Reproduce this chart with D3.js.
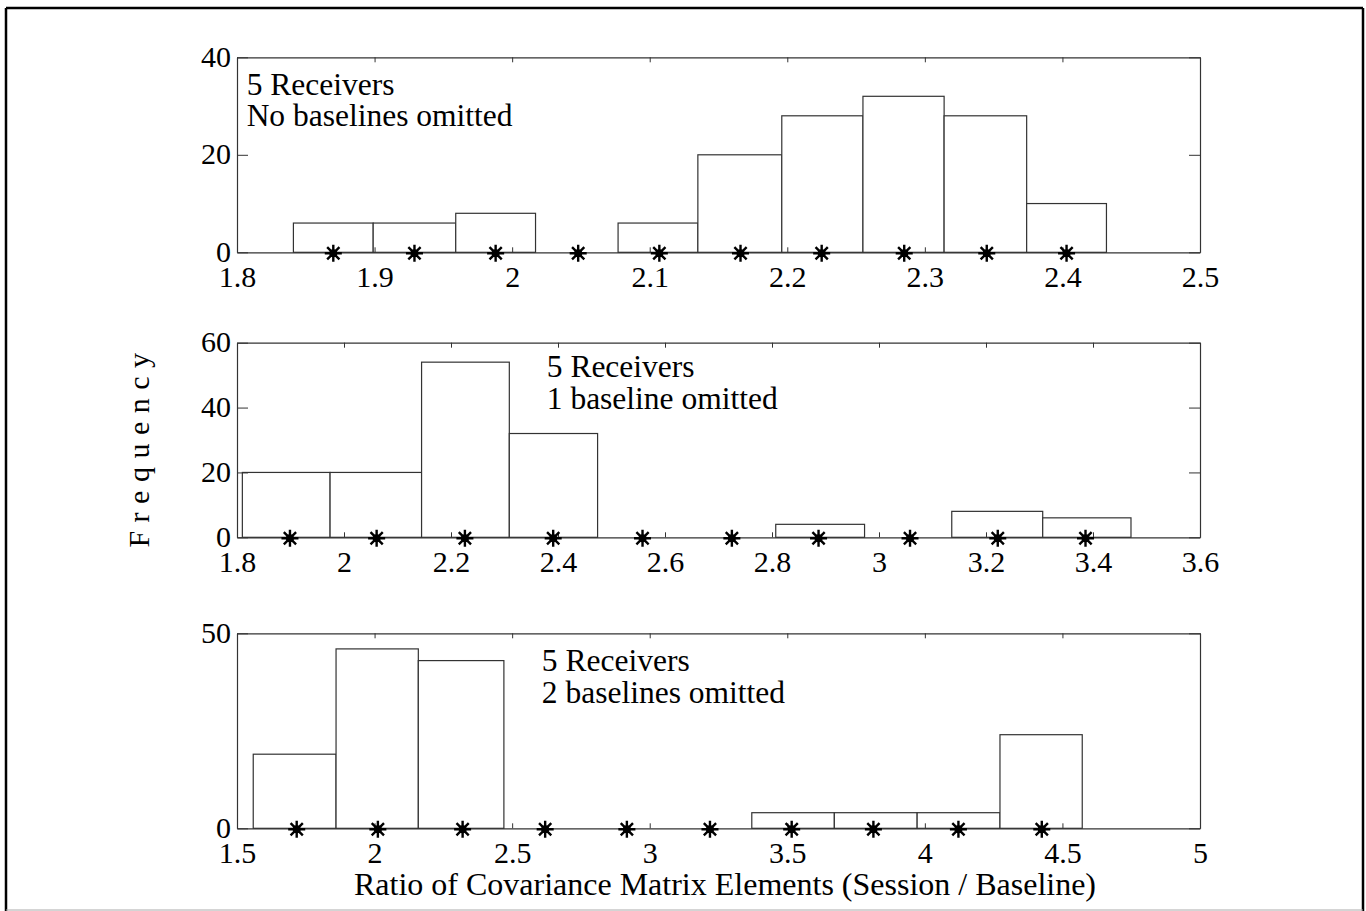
<!DOCTYPE html>
<html>
<head>
<meta charset="utf-8">
<script src="https://cdn.jsdelivr.net/npm/d3@7"></script>
<style>
  body { margin: 0; background: #fff; }
  svg text { font-family: "Liberation Serif", "Times New Roman", serif; fill: #000; }
</style>
</head>
<body>
<div id="chart"></div>
<script>
// histogram bin edges, counts and bin-centre markers
const edges1 = [1.841, 1.899, 1.959, 2.017, 2.077, 2.135, 2.196, 2.255, 2.314, 2.374, 2.432];
const counts1 = [6, 6, 8, 0, 6, 20, 28, 32, 28, 10];
const centers1 = [1.870, 1.929, 1.988, 2.048, 2.107, 2.166, 2.225, 2.285, 2.345, 2.403];
const xTicks1 = [1.8, 1.9, 2, 2.1, 2.2, 2.3, 2.4, 2.5];
const yTicks1 = [0, 20, 40];
const label1 = ["5 Receivers", "No baselines omitted"];

const edges2 = [1.810, 1.974, 2.145, 2.309, 2.474, 2.640, 2.807, 2.973, 3.136, 3.306, 3.471];
const counts2 = [20, 20, 54, 32, 0, 0, 4, 0, 8, 6];
const centers2 = [1.899, 2.061, 2.226, 2.391, 2.558, 2.725, 2.887, 3.058, 3.222, 3.386];
const xTicks2 = [1.8, 2, 2.2, 2.4, 2.6, 2.8, 3, 3.2, 3.4, 3.6];
const yTicks2 = [0, 20, 40, 60];
const label2 = ["5 Receivers", "1 baseline omitted"];

const edges3 = [1.559, 1.860, 2.159, 2.470, 2.764, 3.066, 3.371, 3.671, 3.972, 4.273, 4.572];
const counts3 = [19, 46, 43, 0, 0, 0, 4, 4, 4, 24];
const centers3 = [1.717, 2.012, 2.320, 2.620, 2.917, 3.219, 3.516, 3.813, 4.122, 4.425];
const xTicks3 = [1.5, 2, 2.5, 3, 3.5, 4, 4.5, 5];
const yTicks3 = [0, 50];
const label3 = ["5 Receivers", "2 baselines omitted"];

const W = 1366, H = 911;
const left = 237, right = 1200;
const tickFont = 30;
const noteFont = 31.5;

const svg = d3.select("#chart").append("svg")
  .attr("width", W)
  .attr("height", H);

// outer frame
svg.append("line").attr("x1", 6).attr("y1", 8).attr("x2", 1363).attr("y2", 8)
  .attr("stroke", "#000").attr("stroke-width", 2.5);
svg.append("line").attr("x1", 6).attr("y1", 8).attr("x2", 6).attr("y2", 911)
  .attr("stroke", "#000").attr("stroke-width", 2.5);
svg.append("line").attr("x1", 1363).attr("y1", 8).attr("x2", 1363).attr("y2", 911)
  .attr("stroke", "#000").attr("stroke-width", 2.5);
svg.append("line").attr("x1", 6).attr("y1", 910).attr("x2", 1363).attr("y2", 910)
  .attr("stroke", "#aaa").attr("stroke-width", 1);

// asterisk marker: + and x strokes
const star = {
  draw(ctx, size) {
    const r = Math.sqrt(size) / 2;
    const d = r * 0.72;
    ctx.moveTo(0, -r); ctx.lineTo(0, r);
    ctx.moveTo(-r, 0); ctx.lineTo(r, 0);
    ctx.moveTo(-d, -d); ctx.lineTo(d, d);
    ctx.moveTo(-d, d); ctx.lineTo(d, -d);
  }
};

function panel(cfg) {
  const x = d3.scaleLinear().domain(cfg.xDomain).range([left, right]);
  const y = d3.scaleLinear().domain(cfg.yDomain).range([cfg.bottom, cfg.top]);
  const g = svg.append("g");

  const bins = cfg.counts.map((c, i) => ({ x0: cfg.edges[i], x1: cfg.edges[i + 1], n: c }))
    .filter(d => d.n > 0);

  g.selectAll("rect.bar")
    .data(bins)
    .enter()
    .append("rect")
    .attr("class", "bar")
    .attr("x", d => x(d.x0))
    .attr("y", d => y(d.n))
    .attr("width", d => x(d.x1) - x(d.x0))
    .attr("height", d => y(0) - y(d.n))
    .attr("fill", "#fff")
    .attr("stroke", "#333")
    .attr("stroke-width", 1.2);

  // axes box with inward ticks
  const xb = g.append("g").attr("transform", "translate(0," + cfg.bottom + ")")
    .call(d3.axisBottom(x).tickValues(cfg.xTicks).tickSizeInner(-5).tickSizeOuter(0).tickFormat(d3.format("")));
  xb.selectAll("text").attr("y", 35).attr("dy", null).style("font-size", tickFont + "px");

  g.append("g").attr("transform", "translate(0," + cfg.top + ")")
    .call(d3.axisTop(x).tickValues(cfg.xTicks).tickSizeInner(-5).tickSizeOuter(0).tickFormat(""));

  const yl = g.append("g").attr("transform", "translate(" + left + ",0)")
    .call(d3.axisLeft(y).tickValues(cfg.yTicks).tickSizeInner(-11).tickSizeOuter(0));
  yl.selectAll("text").attr("x", -6).attr("dy", "0.3em").style("font-size", tickFont + "px");

  g.append("g").attr("transform", "translate(" + right + ",0)")
    .call(d3.axisRight(y).tickValues(cfg.yTicks).tickSizeInner(-11).tickSizeOuter(0).tickFormat(""));

  g.selectAll(".domain").attr("stroke", "#333").attr("stroke-width", 1.2);
  g.selectAll(".tick line").attr("stroke", "#333");

  // markers at bin centres
  const sym = d3.symbol().type(star).size(290);
  const m = g.selectAll("g.mark")
    .data(cfg.centers)
    .enter()
    .append("g")
    .attr("class", "mark")
    .attr("transform", d => "translate(" + x(d) + "," + (y(0) + 1) + ")");
  m.append("path").attr("d", sym).attr("stroke", "#000").attr("stroke-width", 2.4).attr("fill", "none");
  m.append("circle").attr("r", 4).attr("fill", "#000");

  // annotation
  const t = g.append("text")
    .attr("x", x(cfg.labelAt[0]))
    .attr("y", y(cfg.labelAt[1]))
    .style("font-size", noteFont + "px");
  cfg.label.forEach((s, i) => {
    t.append("tspan").attr("x", x(cfg.labelAt[0])).attr("dy", i === 0 ? 0 : 31.5).text(s);
  });
}

panel({ edges: edges1, counts: counts1, centers: centers1, xTicks: xTicks1, yTicks: yTicks1,
  xDomain: [1.8, 2.5], yDomain: [0, 40], top: 57.3, bottom: 252.3, label: label1, labelAt: [1.807, 32.3] });
panel({ edges: edges2, counts: counts2, centers: centers2, xTicks: xTicks2, yTicks: yTicks2,
  xDomain: [1.8, 3.6], yDomain: [0, 60], top: 342.7, bottom: 537.3, label: label2, labelAt: [2.379, 49.3] });
panel({ edges: edges3, counts: counts3, centers: centers3, xTicks: xTicks3, yTicks: yTicks3,
  xDomain: [1.5, 5], yDomain: [0, 50], top: 633.3, bottom: 828.3, label: label3, labelAt: [2.608, 40.3] });

// axis titles
svg.append("text")
  .attr("transform", "translate(149,446) rotate(-90)")
  .attr("text-anchor", "middle")
  .style("font-size", "30px")
  .style("letter-spacing", "8.5px")
  .text("Frequency");

svg.append("text")
  .attr("x", 725)
  .attr("y", 895)
  .attr("text-anchor", "middle")
  .style("font-size", "32px")
  .text("Ratio of Covariance Matrix Elements (Session / Baseline)");
</script>
</body>
</html>
